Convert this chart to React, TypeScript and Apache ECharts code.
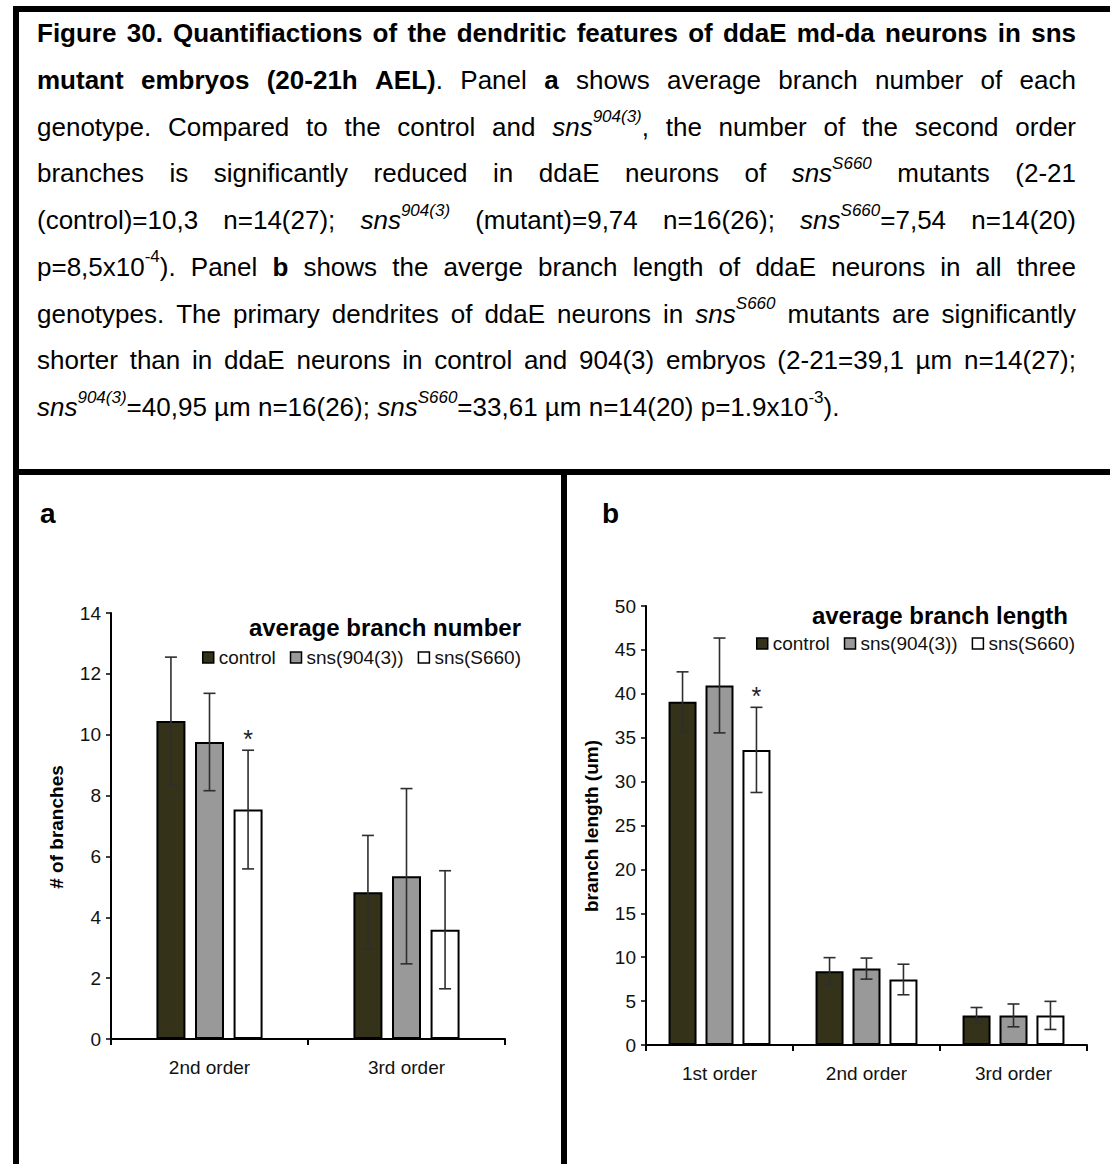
import React, { useEffect, useRef } from 'react';
import * as echarts from 'echarts';

const FONT = '"Liberation Sans", Arial, Helvetica, sans-serif';
const W = 1110;
const H = 1164;

// ---------- data ----------
const genotypes = ['control', 'sns(904(3))', 'sns(S660)'];
const genotypeColors = ['#34331a', '#999999', '#ffffff'];

// panel a : average branch number
const categoriesA = ['2nd order', '3rd order'];
const controlA = [10.45, 4.82];
const sns904A = [9.76, 5.35];
const snsS660A = [7.54, 3.59];
const controlErrA = [2.1, 1.87];
const sns904ErrA = [1.6, 2.88];
const snsS660ErrA = [1.95, 1.94];
const starsA = [[false, false], [false, false], [true, false]];
const yMinA = 0, yMaxA = 14, yStepA = 2;

// panel b : average branch length
const categoriesB = ['1st order', '2nd order', '3rd order'];
const controlB = [39.1, 8.4, 3.37];
const sns904B = [40.95, 8.7, 3.37];
const snsS660B = [33.61, 7.46, 3.37];
const controlErrB = [3.4, 1.55, 0.9];
const sns904ErrB = [5.4, 1.2, 1.3];
const snsS660ErrB = [4.85, 1.74, 1.6];
const starsB = [[false, false, false], [false, false, false], [true, false, false]];
const yMinB = 0, yMaxB = 50, yStepB = 5;

const titleA = 'average branch number';
const titleB = 'average branch length';
const yNameA = '# of branches';
const yNameB = 'branch length (um)';

// caption
type Run = { t: string; b?: boolean; i?: boolean; sup?: boolean };
const captionLines: Run[][] = [
  [{ t: 'Figure 30. Quantifiactions of the dendritic features of ddaE md-da neurons in sns', b: true }],
  [{ t: 'mutant embryos (20-21h AEL)', b: true }, { t: '. Panel ' }, { t: 'a', b: true }, { t: ' shows average branch number of each' }],
  [{ t: 'genotype. Compared to the control and ' }, { t: 'sns', i: true }, { t: '904(3)', i: true, sup: true }, { t: ', the number of the second order' }],
  [{ t: 'branches is significantly reduced in ddaE neurons of ' }, { t: 'sns', i: true }, { t: 'S660', i: true, sup: true }, { t: ' mutants (2-21' }],
  [{ t: '(control)=10,3 n=14(27); ' }, { t: 'sns', i: true }, { t: '904(3)', i: true, sup: true }, { t: ' (mutant)=9,74 n=16(26); ' }, { t: 'sns', i: true }, { t: 'S660', i: true, sup: true }, { t: '=7,54 n=14(20)' }],
  [{ t: 'p=8,5x10' }, { t: '-4', sup: true }, { t: '). Panel ' }, { t: 'b', b: true }, { t: ' shows the averge branch length of ddaE neurons in all three' }],
  [{ t: 'genotypes. The primary dendrites of ddaE neurons in ' }, { t: 'sns', i: true }, { t: 'S660', i: true, sup: true }, { t: ' mutants are significantly' }],
  [{ t: 'shorter than in ddaE neurons in control and 904(3) embryos (2-21=39,1 µm n=14(27);' }],
  [{ t: 'sns', i: true }, { t: '904(3)', i: true, sup: true }, { t: '=40,95 µm n=16(26); ' }, { t: 'sns', i: true }, { t: 'S660', i: true, sup: true }, { t: '=33,61 µm n=14(20) p=1.9x10' }, { t: '-3', sup: true }, { t: ').' }],
];
const captionJustified = [true, true, true, true, true, true, true, true, false];

// ---------- layout ----------
const CAP_LEFT = 37;
const CAP_RIGHT = 1076;
const CAP_TOP = 33;
const CAP_LINE = 46.75;
const CAP_SIZE = 26;
const SUP_SIZE = 17;

const gridA = { left: 111, right: W - 505, top: 613, bottom: H - 1039 };
const gridB = { left: 646, right: W - 1087, top: 606, bottom: H - 1045 };
const barWA = 29, barGapA = 0.33;
const barWB = 28, barGapB = 0.32;

function fontStr(size: number, bold?: boolean, italic?: boolean) {
  return `${italic ? 'italic ' : ''}${bold ? 'bold ' : ''}${size}px ${FONT}`;
}

function txt(x: number, y: number, text: string, o: any = {}) {
  const align = o.align || 'left';
  const valign = o.valign || 'middle';
  return {
    type: 'text',
    x,
    y,
    rotation: o.rotation || 0,
    silent: true,
    z: 10,
    style: {
      text,
      fontSize: o.size || 18,
      fontWeight: o.bold ? 'bold' : 'normal',
      fontStyle: o.italic ? 'italic' : 'normal',
      fontFamily: FONT,
      fill: o.color || '#000',
      align,
      verticalAlign: valign,
      textAlign: align,
      textVerticalAlign: valign,
    },
  };
}

function buildCaption() {
  const els: any[] = [];
  const ctx = document.createElement('canvas').getContext('2d')!;
  const measure = (p: Run) => {
    ctx.font = fontStr(p.sup ? SUP_SIZE : CAP_SIZE, p.b, p.i);
    return ctx.measureText(p.t).width;
  };
  captionLines.forEach((runs, li) => {
    const tokens: Run[][] = [];
    let cur: Run[] = [];
    runs.forEach((r) => {
      const parts = r.t.split(' ');
      parts.forEach((p, pi) => {
        if (pi > 0) {
          if (cur.length) tokens.push(cur);
          cur = [];
        }
        if (p) cur.push({ ...r, t: p });
      });
    });
    if (cur.length) tokens.push(cur);
    const widths = tokens.map((tok) => tok.reduce((s, p) => s + measure(p), 0));
    const total = widths.reduce((a, b) => a + b, 0);
    ctx.font = fontStr(CAP_SIZE);
    const natural = ctx.measureText(' ').width;
    const gap = captionJustified[li] && tokens.length > 1 ? (CAP_RIGHT - CAP_LEFT - total) / (tokens.length - 1) : natural;
    let x = CAP_LEFT;
    const y = CAP_TOP + li * CAP_LINE;
    tokens.forEach((tok) => {
      tok.forEach((p) => {
        els.push(
          txt(x, p.sup ? y - 10 : y, p.t, {
            size: p.sup ? SUP_SIZE : CAP_SIZE,
            bold: p.b,
            italic: p.i,
          })
        );
        x += measure(p);
      });
      x += gap;
    });
  });
  return els;
}

function axisPair(gridIndex: number, cats: string[], min: number, max: number, step: number) {
  const x = {
    type: 'category',
    gridIndex,
    data: cats,
    axisLine: { show: true, lineStyle: { color: '#000', width: 2 } },
    axisTick: { show: true, length: 6, alignWithLabel: false, lineStyle: { color: '#000', width: 2 } },
    axisLabel: { fontSize: 19, fontFamily: FONT, color: '#111', margin: 19 },
    splitLine: { show: false },
  };
  const y = {
    type: 'value',
    gridIndex,
    min,
    max,
    interval: step,
    axisLine: { show: true, lineStyle: { color: '#000', width: 2 } },
    axisTick: { show: true, length: 5, lineStyle: { color: '#000', width: 1.5 } },
    axisLabel: { fontSize: 19, fontFamily: FONT, color: '#111', margin: 10 },
    splitLine: { show: false },
  };
  return { x, y };
}

function barSeries(gridIndex: number, k: number, values: number[], barW: number, gap: number) {
  return {
    type: 'bar',
    name: genotypes[k],
    xAxisIndex: gridIndex,
    yAxisIndex: gridIndex,
    data: values,
    barWidth: barW,
    barGap: `${Math.round(gap * 100)}%`,
    itemStyle: { color: genotypeColors[k], borderColor: '#000', borderWidth: 2 },
    emphasis: { disabled: true },
    z: 2,
  };
}

function errSeries(gridIndex: number, k: number, values: number[], errs: number[], stars: boolean[], barW: number, gap: number) {
  const step = barW * (1 + gap);
  return {
    type: 'custom',
    name: genotypes[k] + ' error',
    xAxisIndex: gridIndex,
    yAxisIndex: gridIndex,
    silent: true,
    z: 5,
    data: values.map((v, i) => [i, v - errs[i], v + errs[i], stars[i] ? 1 : 0]),
    renderItem: (_params: any, api: any) => {
      const i = api.value(0);
      const lo = api.coord([i, api.value(1)]);
      const hi = api.coord([i, api.value(2)]);
      const x = lo[0] + (k - 1) * step;
      const cap = 6;
      const ls = { stroke: '#2e2e2e', lineWidth: 1.6 };
      const children: any[] = [
        { type: 'line', shape: { x1: x, y1: hi[1], x2: x, y2: lo[1] }, style: ls },
        { type: 'line', shape: { x1: x - cap, y1: hi[1], x2: x + cap, y2: hi[1] }, style: ls },
        { type: 'line', shape: { x1: x - cap, y1: lo[1], x2: x + cap, y2: lo[1] }, style: ls },
      ];
      if (api.value(3)) {
        children.push({
          type: 'text',
          x,
          y: hi[1] - 11,
          style: {
            text: '*',
            fontSize: 25,
            fontFamily: FONT,
            fill: '#222',
            align: 'center',
            verticalAlign: 'middle',
            textAlign: 'center',
            textVerticalAlign: 'middle',
          },
        });
      }
      return { type: 'group', children };
    },
  };
}

function legend(right: number, top: number) {
  return {
    data: genotypes,
    right,
    top,
    padding: 0,
    itemWidth: 11,
    itemHeight: 11,
    itemGap: 14,
    icon: 'rect',
    selectedMode: false,
    itemStyle: { borderColor: '#000', borderWidth: 1.5 },
    textStyle: { fontSize: 19, fontFamily: FONT, color: '#111' },
  };
}

export default function App() {
  const ref = useRef<HTMLDivElement>(null);
  useEffect(() => {
    if (!ref.current) return;
    const chart = echarts.init(ref.current, null, { renderer: 'svg', width: W, height: H });
    const a = axisPair(0, categoriesA, yMinA, yMaxA, yStepA);
    const b = axisPair(1, categoriesB, yMinB, yMaxB, yStepB);

    const frame = [
      { type: 'rect', shape: { x: 13, y: 6, width: 6, height: H - 6 }, style: { fill: '#000' }, silent: true, z: 20 },
      { type: 'rect', shape: { x: 13, y: 6, width: W - 13, height: 6 }, style: { fill: '#000' }, silent: true, z: 20 },
      { type: 'rect', shape: { x: 13, y: 469, width: W - 13, height: 6 }, style: { fill: '#000' }, silent: true, z: 20 },
      { type: 'rect', shape: { x: 561, y: 469, width: 6, height: H - 469 }, style: { fill: '#000' }, silent: true, z: 20 },
    ];

    const labels = [
      txt(40, 513, 'a', { size: 28, bold: true }),
      txt(602, 513, 'b', { size: 28, bold: true }),
      txt(521, 627, titleA, { size: 24, bold: true, align: 'right' }),
      txt(1068, 615, titleB, { size: 24, bold: true, align: 'right' }),
      txt(56, 827, yNameA, { size: 19, bold: true, align: 'center', rotation: Math.PI / 2 }),
      txt(591, 826, yNameB, { size: 19, bold: true, align: 'center', rotation: Math.PI / 2 }),
    ];

    const option: any = {
      animation: false,
      backgroundColor: '#ffffff',
      grid: [gridA, gridB],
      xAxis: [a.x, b.x],
      yAxis: [a.y, b.y],
      legend: [legend(W - 521, 648), legend(W - 1075, 634)],
      series: [
        barSeries(0, 0, controlA, barWA, barGapA),
        barSeries(0, 1, sns904A, barWA, barGapA),
        barSeries(0, 2, snsS660A, barWA, barGapA),
        barSeries(1, 0, controlB, barWB, barGapB),
        barSeries(1, 1, sns904B, barWB, barGapB),
        barSeries(1, 2, snsS660B, barWB, barGapB),
        errSeries(0, 0, controlA, controlErrA, starsA[0], barWA, barGapA),
        errSeries(0, 1, sns904A, sns904ErrA, starsA[1], barWA, barGapA),
        errSeries(0, 2, snsS660A, snsS660ErrA, starsA[2], barWA, barGapA),
        errSeries(1, 0, controlB, controlErrB, starsB[0], barWB, barGapB),
        errSeries(1, 1, sns904B, sns904ErrB, starsB[1], barWB, barGapB),
        errSeries(1, 2, snsS660B, snsS660ErrB, starsB[2], barWB, barGapB),
      ],
      graphic: [...frame, ...labels, ...buildCaption()],
    };
    chart.setOption(option);
    return () => chart.dispose();
  }, []);
  return <div ref={ref} style={{ position: 'absolute', left: 0, top: 0, width: W, height: H, background: '#fff' }} />;
}
